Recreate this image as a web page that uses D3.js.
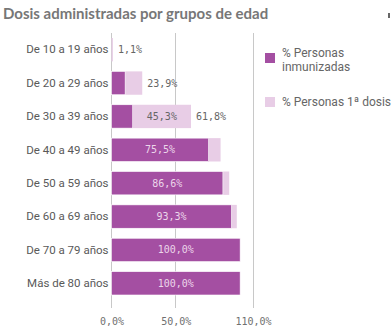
<!DOCTYPE html>
<html lang="es">
<head>
<meta charset="UTF-8">
<title>Dosis por edad</title>
<style>
  body { margin: 0; background: #fff; }
</style>
</head>
<body>
<script src="https://d3js.org/d3.v7.min.js"></script>
<script>
    let width = 391;
    let height = 335;

    let grupos = ['De 10 a 19 años', 'De 20 a 29 años', 'De 30 a 39 años', 'De 40 a 49 años',
                  'De 50 a 59 años', 'De 60 a 69 años', 'De 70 a 79 años', 'Más de 80 años'];
    let inmunizadas = [0, 10.6, 16.5, 75.5, 86.6, 93.3, 100, 100];
    let primeraDosis = [1.1, 13.3, 45.3, 9.3, 4.9, 4.1, 0, 0];
    let totales = [1.1, 23.9, 61.8, 84.8, 91.5, 97.4, 100, 100];
    let ticks = [0, 50, 110];
    let series = ['% Personas inmunizadas', '% Personas 1ª dosis'];
    let colores = ['#a44fa2', '#e8cde6'];

    let fmt = v => d3.format('.1f')(v).replace('.', ',') + '%';

    let data = grupos.map((g, i) => ({
        grupo: g, inm: inmunizadas[i], prim: primeraDosis[i], total: totales[i]
    }));

    let svg = d3.select('body').append('svg')
        .attr('width', width)
        .attr('height', height);

    // titulo
    svg.append('text')
        .attr('x', 3).attr('y', 19)
        .attr('font-family', 'Lato').attr('font-weight', 'bold')
        .attr('font-size', 15).attr('fill', '#777')
        .text('Dosis administradas por grupos de edad');

    svg.append('rect').attr('x', 388).attr('y', 13).attr('width', 2).attr('height', 5).attr('fill', '#666');

    let xScale = d3.scaleLinear().domain([0, 110]).range([111.5, 253]);
    let yScale = d3.scaleBand().domain(grupos).range([33, 300])
        .paddingInner(0.3).paddingOuter(0.15);

    // rejilla
    svg.append('g').selectAll('line').data(ticks).enter().append('line')
        .attr('x1', d => xScale(d)).attr('x2', d => xScale(d))
        .attr('y1', 33).attr('y2', 308)
        .attr('stroke', '#c8c8c8').attr('stroke-width', 1)
        .attr('shape-rendering', 'crispEdges');

    // eje x
    let xAxis = d3.axisBottom(xScale).tickValues(ticks).tickFormat(fmt).tickSize(0).tickPadding(0);
    let gx = svg.append('g').attr('transform', 'translate(0,318)').call(xAxis);
    gx.select('.domain').remove();
    gx.selectAll('text')
        .attr('font-family', 'DejaVu Sans Mono').attr('font-size', 10)
        .attr('fill', '#707070').attr('dy', '0.71em');

    // eje y
    let yAxis = d3.axisLeft(yScale).tickSize(0).tickPadding(3);
    let gy = svg.append('g').attr('transform', 'translate(111.5,0)').call(yAxis);
    gy.select('.domain').remove();
    gy.selectAll('text')
        .attr('font-family', 'Roboto').attr('font-size', 11.5).attr('fill', '#595959');

    // barras
    let filas = svg.append('g').selectAll('g').data(data).enter().append('g');

    filas.filter(d => d.prim > 0).append('rect')
        .attr('x', d => xScale(d.inm))
        .attr('y', d => yScale(d.grupo))
        .attr('width', d => xScale(d.inm + d.prim) - xScale(d.inm))
        .attr('height', yScale.bandwidth())
        .attr('fill', colores[1]);

    filas.filter(d => d.inm > 0).append('rect')
        .attr('x', xScale(0))
        .attr('y', d => yScale(d.grupo))
        .attr('width', d => xScale(d.inm) - xScale(0))
        .attr('height', yScale.bandwidth())
        .attr('fill', colores[0])
        .attr('stroke', '#fff').attr('stroke-width', 0.6);

    let cy = d => yScale(d.grupo) + yScale.bandwidth() / 2;

    // etiquetas dentro
    filas.filter(d => xScale(d.inm) - xScale(0) > 40).append('text')
        .attr('x', d => (xScale(0) + xScale(d.inm)) / 2)
        .attr('y', cy).attr('dy', '0.35em')
        .attr('text-anchor', 'middle')
        .attr('font-family', 'DejaVu Sans Mono').attr('font-size', 10)
        .attr('fill', '#ecd6ea')
        .text(d => fmt(d.inm));

    filas.filter(d => xScale(d.inm + d.prim) - xScale(d.inm) > 40).append('text')
        .attr('x', d => (xScale(d.inm) + xScale(d.inm + d.prim)) / 2)
        .attr('y', cy).attr('dy', '0.35em')
        .attr('text-anchor', 'middle')
        .attr('font-family', 'DejaVu Sans Mono').attr('font-size', 10)
        .attr('fill', '#666')
        .text(d => fmt(d.prim));

    // totales
    filas.filter(d => d.total < 70).append('text')
        .attr('x', d => xScale(d.total) + 5)
        .attr('y', cy).attr('dy', '0.35em')
        .attr('font-family', 'DejaVu Sans Mono').attr('font-size', 10)
        .attr('fill', '#666')
        .text(d => fmt(d.total));

    // leyenda
    let leyenda = svg.append('g');
    leyenda.append('rect').attr('x', 265).attr('y', 53).attr('width', 10).attr('height', 10).attr('fill', colores[0]);
    leyenda.append('text').attr('x', 282).attr('y', 57)
        .attr('font-family', 'Roboto').attr('font-size', 12).attr('fill', '#666')
        .selectAll('tspan').data(['% Personas', 'inmunizadas']).enter().append('tspan')
        .attr('x', 282).attr('dy', (d, i) => i ? '1.15em' : 0).text(d => d);
    leyenda.append('rect').attr('x', 265).attr('y', 97).attr('width', 10).attr('height', 10).attr('fill', colores[1]);
    leyenda.append('text').attr('x', 282).attr('y', 106)
        .attr('font-family', 'Roboto').attr('font-size', 12).attr('fill', '#666')
        .text(series[1]);
</script>
</body>
</html>
